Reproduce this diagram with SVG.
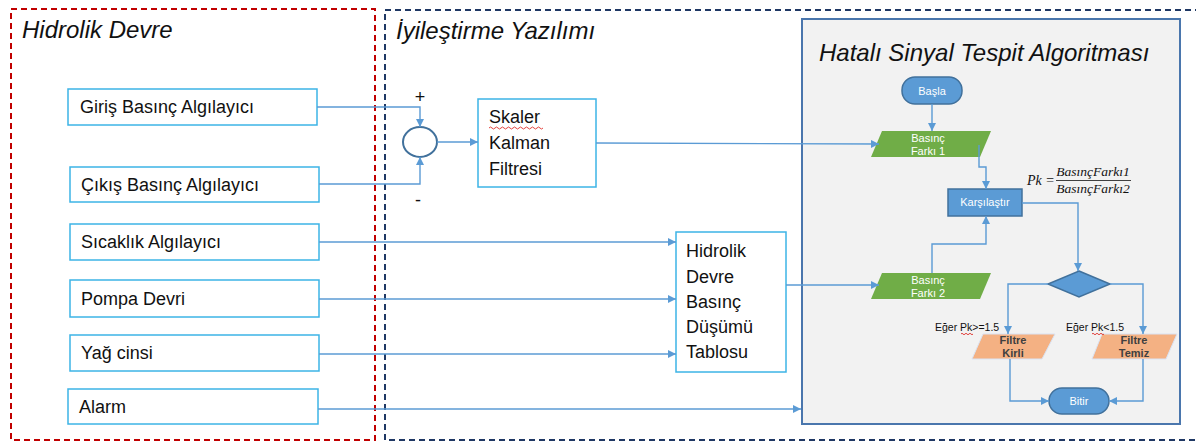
<svg xmlns="http://www.w3.org/2000/svg" width="1196" height="442" viewBox="0 0 1196 442">
<style>
.bg{fill:#ffffff}
.inbox{fill:#ffffff;stroke:#3cb4e6;stroke-width:1.5}
.t{font-family:"Liberation Sans",Arial,sans-serif;fill:#111111}
.lbl{font-size:18px}
.ttl{font-size:24px;font-style:italic}
.conn{fill:none;stroke:#5b9bd5;stroke-width:1.4}
.blue{fill:#5b9bd5;stroke:#41719c;stroke-width:1.5}
.green{fill:#70ad47}
.orange{fill:#f4b183;stroke:#dae3f3;stroke-width:1}
.wt{font-family:"Liberation Sans",Arial,sans-serif;font-size:11px;fill:#ffffff;text-anchor:middle}
.ot{font-family:"Liberation Sans",Arial,sans-serif;font-size:11px;font-weight:bold;fill:#404040;text-anchor:middle}
.sm{font-family:"Liberation Sans",Arial,sans-serif;font-size:10.5px;fill:#111111}
.math{font-family:"Liberation Serif","Times New Roman",serif;font-style:italic;fill:#111111}
.squig{fill:none;stroke:#e0302a;stroke-width:0.9}
</style>
<defs>
<marker id="arr" viewBox="0 0 10 10" refX="10" refY="5" markerWidth="9" markerHeight="8" markerUnits="userSpaceOnUse" orient="auto">
<path d="M0,0 L10,5 L0,10 z" fill="#5b9bd5"/>
</marker>
</defs>
<rect class="bg" x="0" y="0" width="1196" height="442"/>

<g id="hidrolik-devre-region">
<rect x="11" y="9" width="364" height="431" fill="none" stroke="#c00000" stroke-width="2" stroke-dasharray="6,4"/>
<text class="t ttl" x="22" y="38">Hidrolik Devre</text>
</g>
<g id="iyilestirme-region">
<rect x="385" y="10" width="820" height="430" fill="none" stroke="#1f3864" stroke-width="2" stroke-dasharray="6,4"/>
<text class="t ttl" x="396" y="39">İyileştirme Yazılımı</text>
</g>
<g id="algoritma-panel">
<rect x="802" y="19" width="378" height="405" fill="#f2f2f2" stroke="#4a76ad" stroke-width="2"/>
<text class="t ttl" x="819" y="61">Hatalı Sinyal Tespit Algoritması</text>
</g>

<g id="giris">
<rect class="inbox" x="68" y="89" width="249" height="36"/>
<text class="t lbl" x="80" y="113">Giriş Basınç Algılayıcı</text>
</g>
<g id="cikis">
<rect class="inbox" x="70" y="167" width="249" height="35"/>
<text class="t lbl" x="81" y="191">Çıkış Basınç Algılayıcı</text>
</g>
<g id="sicaklik">
<rect class="inbox" x="70" y="224" width="249" height="36"/>
<text class="t lbl" x="81" y="248">Sıcaklık Algılayıcı</text>
</g>
<g id="pompa">
<rect class="inbox" x="70" y="280" width="249" height="37"/>
<text class="t lbl" x="81" y="305">Pompa Devri</text>
</g>
<g id="yag">
<rect class="inbox" x="70" y="335" width="249" height="36"/>
<text class="t lbl" x="81" y="359">Yağ cinsi</text>
</g>
<g id="alarm">
<rect class="inbox" x="68" y="389" width="250" height="35"/>
<text class="t lbl" x="79" y="413">Alarm</text>
</g>

<g id="toplama">
<ellipse cx="420" cy="142" rx="17" ry="15" fill="#ffffff" stroke="#41719c" stroke-width="2"/>
<text class="t" x="420" y="103" font-size="18" text-anchor="middle">+</text>
<text class="t" x="418" y="206" font-size="18" text-anchor="middle">-</text>
</g>

<g id="kalman">
<rect class="inbox" x="478" y="99" width="118" height="88"/>
<text class="t lbl" x="489" y="123">Skaler</text>
<text class="t lbl" x="489" y="149">Kalman</text>
<text class="t lbl" x="489" y="175">Filtresi</text>
<path class="squig" d="M489,128 q1.5,-2 3,0 t3,0 t3,0 t3,0 t3,0 t3,0 t3,0 t3,0 t3,0 t3,0 t3,0 t3,0 t3,0 t3,0 t3,0 t3,0 t3,0 t3,0"/>
</g>

<g id="tablo">
<rect class="inbox" x="676" y="232" width="110" height="140"/>
<text class="t lbl" x="686" y="257">Hidrolik</text>
<text class="t lbl" x="686" y="283">Devre</text>
<text class="t lbl" x="686" y="308">Basınç</text>
<text class="t lbl" x="686" y="333">Düşümü</text>
<text class="t lbl" x="686" y="358">Tablosu</text>
</g>

<g id="basla">
<rect class="blue" x="902" y="77" width="60" height="27" rx="13" ry="13"/>
<text class="wt" x="932" y="95">Başla</text>
</g>
<g id="basinc-farki-1">
<polygon class="green" points="882,131 991,131 980,157 871,157"/>
<text class="wt" x="928" y="142">Basınç</text>
<text class="wt" x="928" y="155">Farkı 1</text>
</g>
<g id="basinc-farki-2">
<polygon class="green" points="882,273 991,273 980,299 871,299"/>
<text class="wt" x="928" y="284">Basınç</text>
<text class="wt" x="928" y="297">Farkı 2</text>
</g>
<g id="karsilastir">
<rect class="blue" x="948" y="189" width="74" height="27"/>
<text class="wt" x="985" y="206">Karşılaştır</text>
</g>
<g id="formul">
<text class="math" x="1027" y="185" font-size="14">Pk = </text>
<text class="math" x="1093" y="176" font-size="13.5" text-anchor="middle">BasınçFarkı1</text>
<line x1="1056" y1="180.5" x2="1131" y2="180.5" stroke="#111111" stroke-width="0.8"/>
<text class="math" x="1093" y="193" font-size="13.5" text-anchor="middle">BasınçFarkı2</text>
</g>
<g id="karar">
<polygon class="blue" points="1079,271 1110,284 1079,297 1048,284"/>
</g>
<g id="filtre-kirli">
<polygon class="orange" points="983,334 1055,334 1042,359 972,359"/>
<text class="ot" x="1013" y="344">Filtre</text>
<text class="ot" x="1013" y="357">Kirli</text>
</g>
<g id="filtre-temiz">
<polygon class="orange" points="1102,334 1177,334 1166,359 1092,359"/>
<text class="ot" x="1134" y="344">Filtre</text>
<text class="ot" x="1134" y="357">Temiz</text>
</g>
<g id="bitir">
<rect class="blue" x="1049" y="388" width="60" height="26" rx="13" ry="13"/>
<text class="wt" x="1079" y="405">Bitir</text>
</g>
<g id="kosul-etiketleri">
<text class="sm" x="935" y="331">Eğer Pk&gt;=1.5</text>
<text class="sm" x="1066" y="331">Eğer Pk&lt;1.5</text>
<path class="squig" d="M961,334 q1,-1.5 2,0 t2,0 t2,0 t2,0 t2,0 t2,0"/>
<path class="squig" d="M1092,334 q1,-1.5 2,0 t2,0 t2,0 t2,0 t2,0 t2,0"/>
</g>

<g id="connectors">
<polyline class="conn" points="317,107 420,107 420,127" marker-end="url(#arr)"/>
<polyline class="conn" points="319,184 420,184 420,157" marker-end="url(#arr)"/>
<line class="conn" x1="437" y1="142" x2="478" y2="142" marker-end="url(#arr)"/>
<line class="conn" x1="596" y1="143" x2="879" y2="144" marker-end="url(#arr)"/>
<line class="conn" x1="319" y1="242" x2="676" y2="242" marker-end="url(#arr)"/>
<line class="conn" x1="319" y1="299" x2="676" y2="299" marker-end="url(#arr)"/>
<line class="conn" x1="319" y1="354" x2="676" y2="354" marker-end="url(#arr)"/>
<line class="conn" x1="318" y1="409" x2="801" y2="409" marker-end="url(#arr)"/>
<line class="conn" x1="786" y1="285" x2="879" y2="285" marker-end="url(#arr)"/>
<line class="conn" x1="932" y1="104" x2="932" y2="131" marker-end="url(#arr)"/>
<polyline class="conn" points="979,145 979,167 986,167 986,189" marker-end="url(#arr)"/>
<polyline class="conn" points="932,273 932,244 986,244 986,216" marker-end="url(#arr)"/>
<polyline class="conn" points="1022,203 1078,203 1078,271" marker-end="url(#arr)"/>
<polyline class="conn" points="1048,284 1008,284 1008,334" marker-end="url(#arr)"/>
<polyline class="conn" points="1110,284 1143,284 1143,334" marker-end="url(#arr)"/>
<polyline class="conn" points="1010,359 1010,401 1049,401" marker-end="url(#arr)"/>
<polyline class="conn" points="1143,359 1143,401 1109,401" marker-end="url(#arr)"/>
</g>
</svg>
